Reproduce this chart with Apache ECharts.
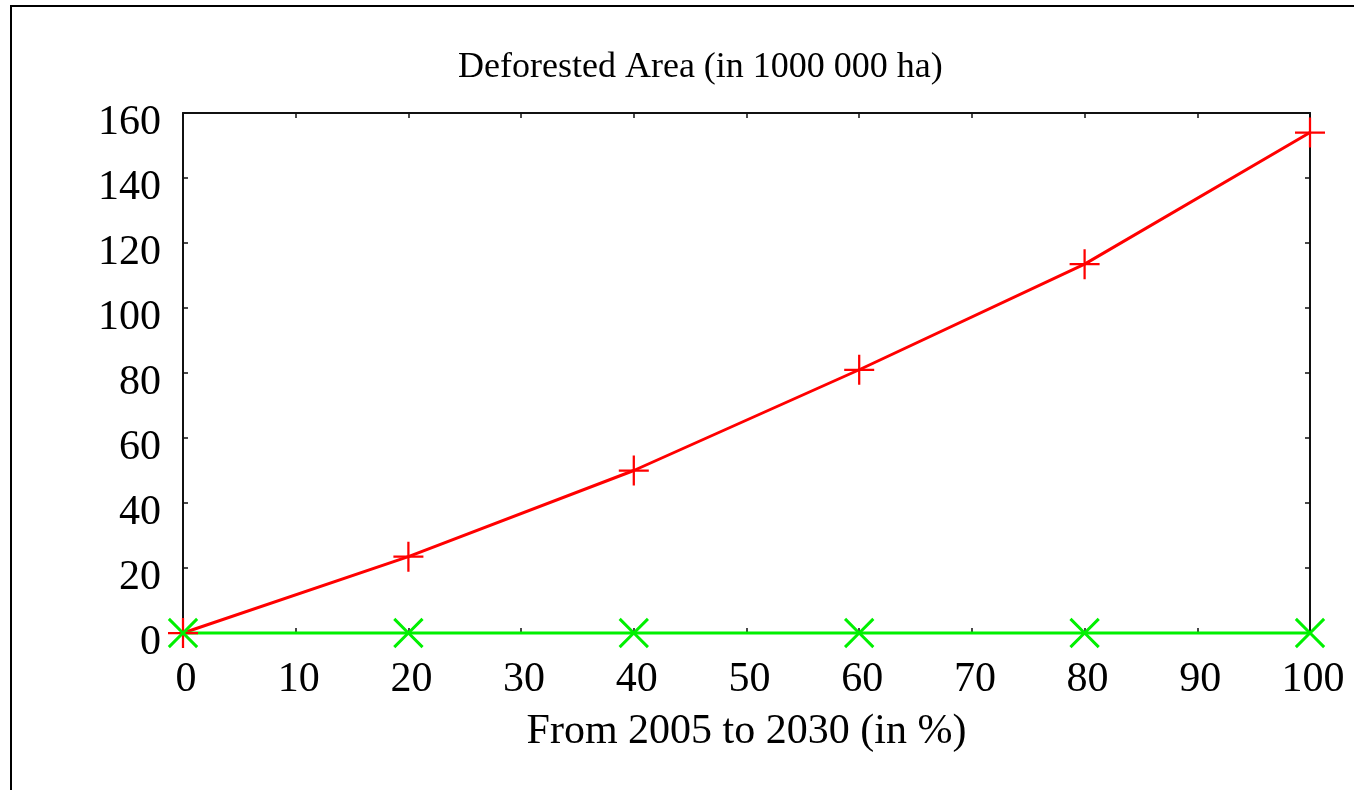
<!DOCTYPE html>
<html>
<head>
<meta charset="utf-8">
<script src="https://cdn.jsdelivr.net/npm/echarts@6/dist/echarts.min.js"></script>
<style>
  html, body { margin: 0; padding: 0; background: #fff; }
  #frame {
    position: absolute; left: 10px; top: 5px; width: 1400px; height: 900px;
    border-left: 2px solid #000; border-top: 2px solid #000;
  }
  #main { position: absolute; left: 0; top: 0; width: 1354px; height: 790px; }
</style>
</head>
<body>
<div id="frame"></div>
<div id="main"></div>
<script>
// values
const share = [0, 20, 40, 60, 80, 100]
const deforested = [0, 23.5, 50, 81, 113.5, 154]
const baseline = [0, 0, 0, 0, 0, 0]

const plusPath = 'path://M-1.5,-20 L1.5,-20 L1.5,-1.5 L20,-1.5 L20,1.5 L1.5,1.5 L1.5,20 L-1.5,20 L-1.5,1.5 L-20,1.5 L-20,-1.5 L-1.5,-1.5 Z'
const font = "'Liberation Serif', 'Times New Roman', serif"

const axisLine = { show: true, onZero: false, lineStyle: { color: '#111', width: 2 } }
const tick = { show: true, inside: true, length: 5, lineStyle: { color: '#111', width: 1.5 } }

const myChart = echarts.init(document.getElementById('main'))
const option = {
  animation: false,
  title: {
    text: 'Deforested Area (in 1000 000 ha)',
    left: 453,
    top: 45,
    textStyle: { fontFamily: font, fontSize: 36, fontWeight: 'normal', color: '#000' }
  },
  grid: { left: 183, right: 44, top: 113, bottom: 157 },
  xAxis: [
    {
      type: 'value', min: 0, max: 100, interval: 10,
      name: 'From 2005 to 2030 (in %)',
      nameLocation: 'middle',
      nameGap: 78,
      nameTextStyle: { fontFamily: font, fontSize: 42, color: '#000' },
      axisLine, axisTick: tick,
      axisLabel: { fontFamily: font, fontSize: 42, color: '#000', margin: 26, padding: [0, 0, 0, 6] },
      splitLine: { show: false }
    },
    {
      type: 'value', min: 0, max: 100, interval: 10, position: 'top',
      axisLine, axisTick: tick, axisLabel: { show: false }, splitLine: { show: false }
    }
  ],
  yAxis: [
    {
      type: 'value', min: 0, max: 160, interval: 20,
      axisLine, axisTick: tick,
      axisLabel: { fontFamily: font, fontSize: 42, color: '#000', margin: 22, verticalAlign: 'top', lineHeight: 20 },
      splitLine: { show: false }
    },
    {
      type: 'value', min: 0, max: 160, interval: 20, position: 'right',
      axisLine, axisTick: tick, axisLabel: { show: false }, splitLine: { show: false }
    }
  ],
  series: [
    {
      type: 'line',
      data: share.map((x, i) => [x, deforested[i]]),
      lineStyle: { color: '#ff0000', width: 3 },
      itemStyle: { color: '#ff0000' },
      symbol: plusPath,
      symbolSize: 30,
      showAllSymbol: true,
      clip: false
    },
    {
      type: 'line',
      data: share.map((x, i) => [x, baseline[i]]),
      lineStyle: { color: '#00f000', width: 3 },
      itemStyle: { color: '#00f000' },
      symbol: plusPath,
      symbolRotate: 45,
      symbolSize: 40,
      showAllSymbol: true,
      clip: false
    }
  ]
}
myChart.setOption(option)
window.addEventListener('resize', function () {
  myChart.resize()
})
</script>
</body>
</html>
